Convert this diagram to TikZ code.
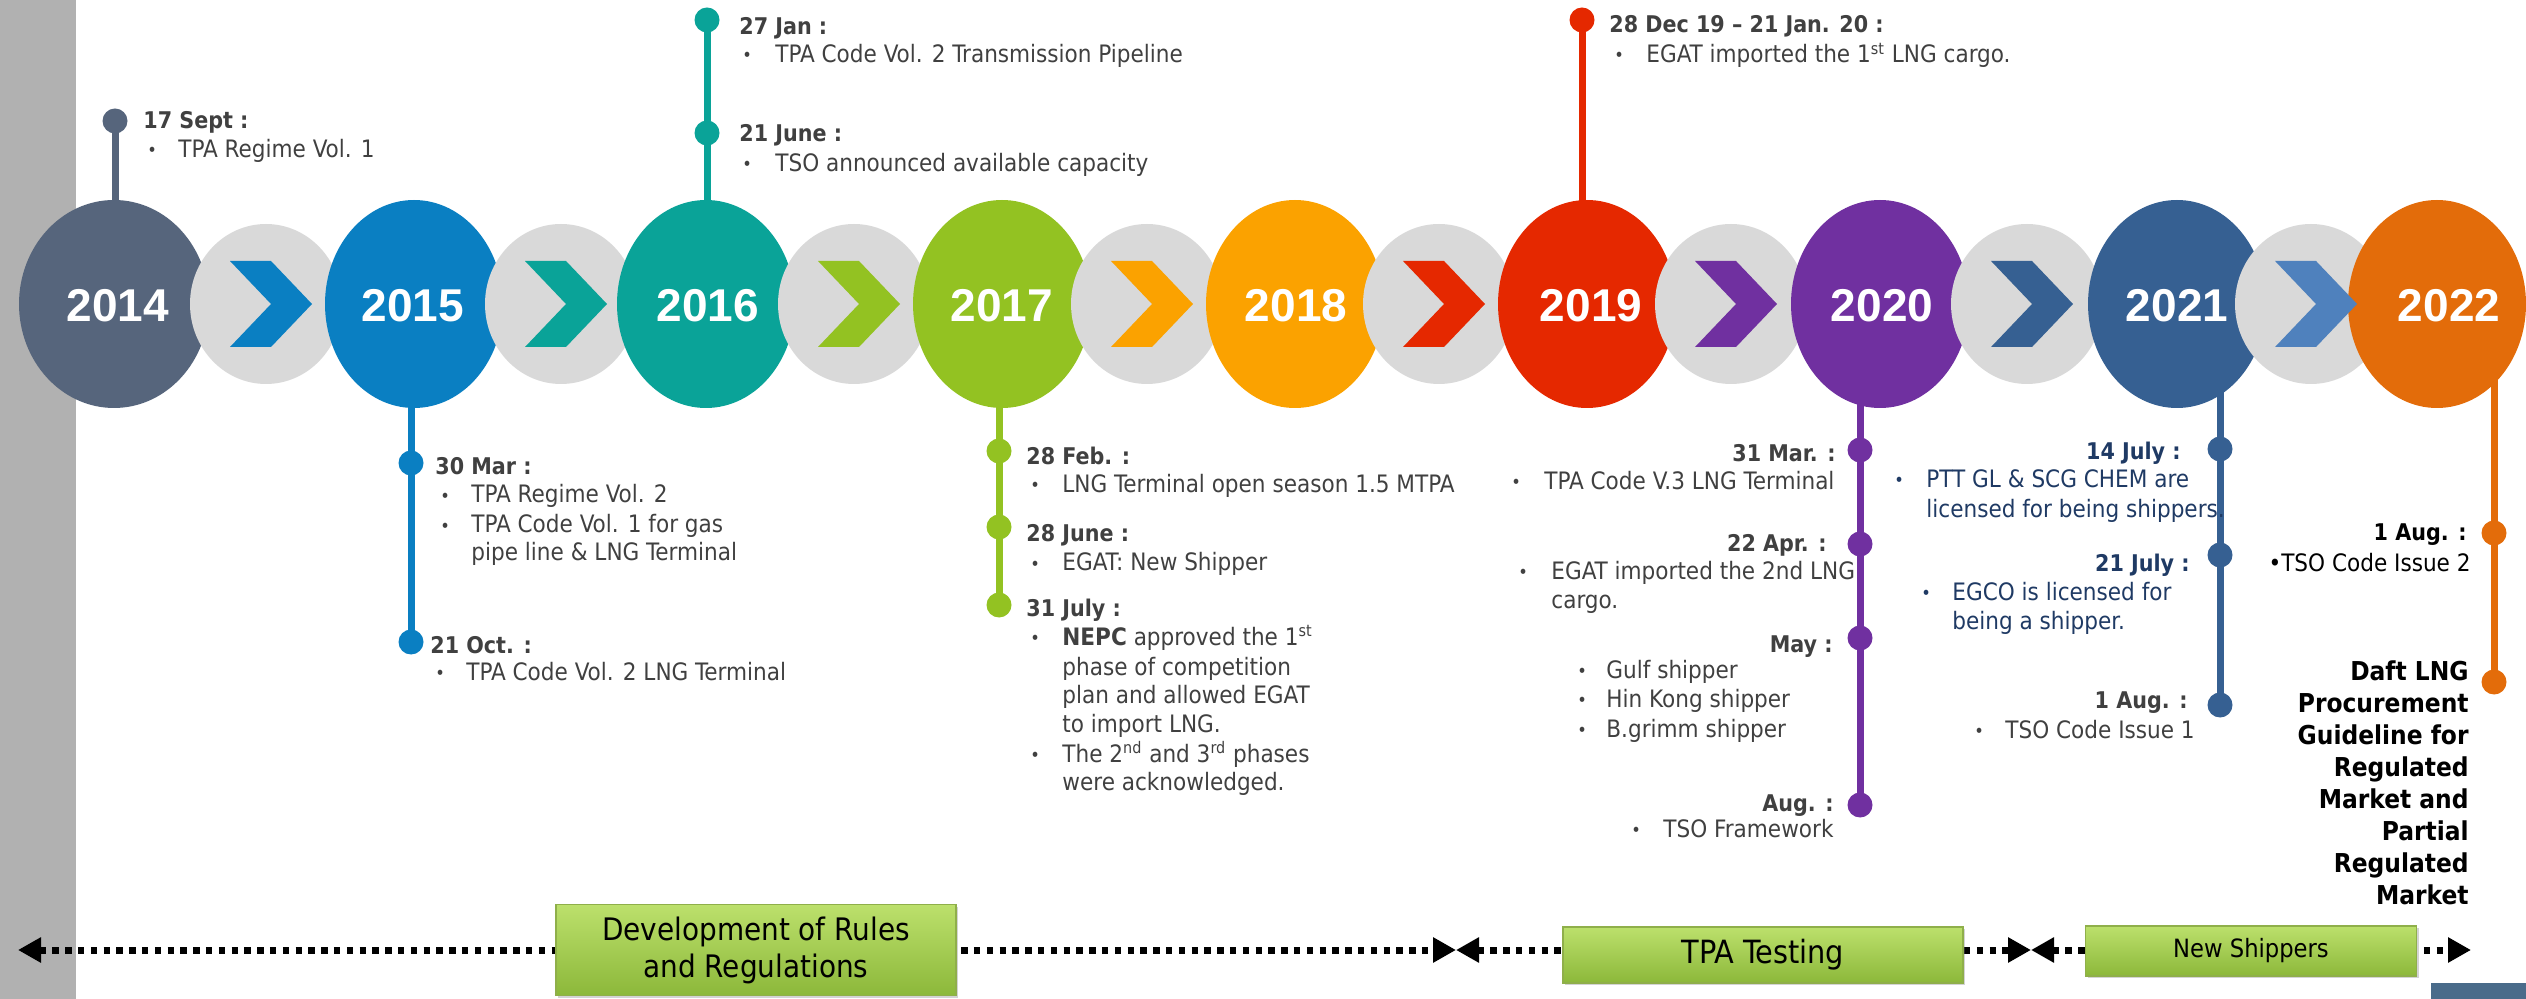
\documentclass[tikz,border=0pt]{standalone}
\usepackage{fontspec}
\setmainfont{DejaVu Sans Condensed}
\newfontfamily\yearfont{Liberation Sans}
\usetikzlibrary{arrows.meta,shapes.geometric,shadows}
\definecolor{c14}{HTML}{56657C}
\definecolor{c15}{HTML}{0A7FC2}
\definecolor{c16}{HTML}{0AA398}
\definecolor{c17}{HTML}{93C222}
\definecolor{c18}{HTML}{FBA200}
\definecolor{c19}{HTML}{E52800}
\definecolor{c20}{HTML}{7030A0}
\definecolor{c21}{HTML}{366092}
\definecolor{c21b}{HTML}{4F81BD}
\definecolor{c22}{HTML}{E36C0A}
\definecolor{gcirc}{HTML}{D9D9D9}
\definecolor{txt}{HTML}{404040}
\definecolor{navy}{HTML}{1F3A64}
\definecolor{sidebar}{HTML}{B1B1B1}
\definecolor{boxtop}{HTML}{BCE06C}
\definecolor{boxbot}{HTML}{8CB83A}
\definecolor{boxedge}{HTML}{8FAF4A}
\definecolor{corner}{HTML}{4A6B8A}
\newcommand\bul{\makebox[0pt][l]{\fontsize{9}{9}\selectfont\raisebox{0.5pt}{\textbullet}}}
\tikzset{
  yearball/.style={ellipse, inner sep=0, minimum width=89pt, minimum height=104pt},
  grayball/.style={ellipse, inner sep=0, fill=gcirc, minimum width=76pt, minimum height=80pt},
  yeartxt/.style={inner sep=0, text=white, font=\yearfont\fontsize{23}{23}\selectfont\bfseries},
  dotmark/.style={circle, inner sep=0, minimum size=12.5pt},
  vline/.style={line width=3.5pt},
  dt/.style={anchor=base west, inner sep=0, text=txt, font=\fontsize{11.5}{13}\selectfont\bfseries},
  dtr/.style={dt, anchor=base east},
  it/.style={anchor=base west, inner sep=0, text=txt, font=\fontsize{12}{13}\selectfont},
  bl/.style={it},
  greenbox/.style={rectangle, draw=boxedge, line width=0.6pt, top color=boxtop, bottom color=boxbot,
    drop shadow={shadow xshift=1.2pt, shadow yshift=-1.2pt, opacity=0.35}, inner sep=0, align=center},
  dotarrow/.style={line width=3.5pt, dash pattern=on 3.2pt off 3.2pt,
    {Triangle[length=11.5pt,width=12pt]}-{Triangle[length=11.5pt,width=12pt]}},
}
\begin{document}
\begin{tikzpicture}[x=0.5pt,y=-0.5pt]
\useasboundingbox (0,0) rectangle (2526,999);
\fill[sidebar] (0,0) rectangle (76,999);
\fill[corner] (2431,983) rectangle (2526,999);

% anchor coordinates on the circles (behind)
\coordinate (k14) at (115,304);
\coordinate (k15) at (411,304);
\coordinate (k16) at (707,304);
\coordinate (k17) at (999,304);
\coordinate (k19) at (1582,304);
\coordinate (k20) at (1860,304);
\coordinate (k21) at (2220,330);
\coordinate (k22) at (2494,330);

% event markers
\node[dotmark, fill=c14] (d14a) at (115,121) {};
\node[dotmark, fill=c16] (d16a) at (707,20) {};
\node[dotmark, fill=c16] (d16b) at (707,133) {};
\node[dotmark, fill=c19] (d19a) at (1582,20) {};
\node[dotmark, fill=c15] (d15a) at (411,463) {};
\node[dotmark, fill=c15] (d15b) at (411,642) {};
\node[dotmark, fill=c17] (d17a) at (999,451) {};
\node[dotmark, fill=c17] (d17b) at (999,527) {};
\node[dotmark, fill=c17] (d17c) at (999,605) {};
\node[dotmark, fill=c20] (d20a) at (1860,450) {};
\node[dotmark, fill=c20] (d20b) at (1860,544) {};
\node[dotmark, fill=c20] (d20c) at (1860,638) {};
\node[dotmark, fill=c20] (d20d) at (1860,805) {};
\node[dotmark, fill=c21] (d21a) at (2220,449) {};
\node[dotmark, fill=c21] (d21b) at (2220,555) {};
\node[dotmark, fill=c21] (d21c) at (2220,705) {};
\node[dotmark, fill=c22] (d22a) at (2494,533) {};
\node[dotmark, fill=c22] (d22b) at (2494,682) {};

\draw[vline, c14] (k14) -- (d14a.center);
\draw[vline, c16] (k16) -- (d16a.center);
\draw[vline, c19] (k19) -- (d19a.center);
\draw[vline, c15] (k15) -- (d15b.center);
\draw[vline, c17] (k17) -- (d17c.center);
\draw[vline, c20] (k20) -- (d20d.center);
\draw[vline, c21] (k21) -- (d21c.center);
\draw[vline, c22] (k22) -- (d22b.center);

% year balls
\node[yearball, fill=c14, minimum width=95pt] (b14) at (114,304) {};
\node[grayball] (g1) at (266,304) {};
\node[yearball, fill=c15] (b15) at (414,304) {};
\node[grayball] (g2) at (561,304) {};
\node[yearball, fill=c16] (b16) at (706,304) {};
\node[grayball] (g3) at (854,304) {};
\node[yearball, fill=c17] (b17) at (1002,304) {};
\node[grayball] (g4) at (1147,304) {};
\node[yearball, fill=c18] (b18) at (1295,304) {};
\node[grayball] (g5) at (1439,304) {};
\node[yearball, fill=c19] (b19) at (1587,304) {};
\node[grayball] (g6) at (1731,304) {};
\node[yearball, fill=c20] (b20) at (1880,304) {};
\node[grayball] (g7) at (2027,304) {};
\node[yearball, fill=c21] (b21) at (2177,304) {};
\node[grayball] (g8) at (2311,304) {};
\node[yearball, fill=c22] (b22) at (2437,304) {};

% chevrons
\foreach \g/\c in {g1/c15,g2/c16,g3/c17,g4/c18,g5/c19,g6/c20,g7/c21,g8/c21b}{
  \fill[\c] ([shift={(-36,-43)}]\g.center) -- ++(41,0) -- ++(41,43) -- ++(-41,43) -- ++(-41,0) -- ++(41,-43) -- cycle;
}

% year labels
\node[yeartxt] (t14) at (118,306) {2014};
\node[yeartxt] (t15) at (413,306) {2015};
\node[yeartxt] (t16) at (708,306) {2016};
\node[yeartxt] (t17) at (1002,306) {2017};
\node[yeartxt] (t18) at (1296,306) {2018};
\node[yeartxt] (t19) at (1591,306) {2019};
\node[yeartxt] (t20) at (1882,306) {2020};
\node[yeartxt] (t21) at (2177,306) {2021};
\node[yeartxt] (t22) at (2449,306) {2022};

% 2014
\node[dt] (e14h) at (143,129) {17 Sept :};
\node[bl] (e14b) at (146,158) {\bul};
\node[it] (e14i) at (178,158) {TPA Regime Vol. 1};

% 2016
\node[dt] (e16h1) at (739,35) {27 Jan :};
\node[bl] (e16b1) at (741,63) {\bul};
\node[it] (e16i1) at (775,63) {TPA Code Vol. 2 Transmission Pipeline};
\node[dt] (e16h2) at (739,142) {21 June :};
\node[bl] (e16b2) at (741,172) {\bul};
\node[it] (e16i2) at (775,172) {TSO announced available capacity};

% 2015
\node[dt] (e15h1) at (435,475) {30 Mar :};
\node[bl] (e15b1) at (439,503) {\bul};
\node[it] (e15i1) at (471,503) {TPA Regime Vol. 2};
\node[bl] (e15b2) at (439,533) {\bul};
\node[it] (e15i2) at (471,533) {TPA Code Vol. 1 for gas};
\node[it] (e15i3) at (471,560) {pipe line \& LNG Terminal};
\node[dt] (e15h2) at (430,653) {21 Oct. :};
\node[bl] (e15b3) at (434,680) {\bul};
\node[it] (e15i4) at (466,680) {TPA Code Vol. 2 LNG Terminal};

% 2017
\node[dt] (e17h1) at (1026,465) {28 Feb. :};
\node[bl] (e17b1) at (1029,493) {\bul};
\node[it] (e17i1) at (1062,493) {LNG Terminal open season 1.5 MTPA};
\node[dt] (e17h2) at (1026,542) {28 June :};
\node[bl] (e17b2) at (1029,571) {\bul};
\node[it] (e17i2) at (1062,571) {EGAT: New Shipper};
\node[dt] (e17h3) at (1026,617) {31 July :};
\node[bl] (e17b3) at (1029,645) {\bul};
\node[it] (e17i3) at (1062,645) {\textbf{NEPC} approved the 1\textsuperscript{st}};
\node[it] (e17i4) at (1062,675) {phase of competition};
\node[it] (e17i5) at (1062,703) {plan and allowed EGAT};
\node[it] (e17i6) at (1062,732) {to import LNG.};
\node[bl] (e17b4) at (1029,762) {\bul};
\node[it] (e17i7) at (1062,762) {The 2\textsuperscript{nd} and 3\textsuperscript{rd} phases};
\node[it] (e17i8) at (1062,790) {were acknowledged.};

% 2019
\node[dt] (e19h) at (1609,33) {28 Dec 19 – 21 Jan. 20 :};
\node[bl] (e19b) at (1613,63) {\bul};
\node[it] (e19i) at (1646,63) {EGAT imported the 1\textsuperscript{st} LNG cargo.};

% 2020
\node[dtr] (e20h1) at (1836,462) {31 Mar. :};
\node[bl] (e20b1) at (1510,490) {\bul};
\node[it] (e20i1) at (1544,490) {TPA Code V.3 LNG Terminal};
\node[dtr] (e20h2) at (1827,552) {22 Apr. :};
\node[bl] (e20b2) at (1517,580) {\bul};
\node[it] (e20i2) at (1551,580) {EGAT imported the 2nd LNG};
\node[it] (e20i3) at (1551,608) {cargo.};
\node[dtr] (e20h3) at (1833,652) {May :};
\node[bl] (e20b3) at (1576,678) {\bul};
\node[it] (e20i4) at (1606,678) {Gulf shipper};
\node[bl] (e20b4) at (1576,707) {\bul};
\node[it] (e20i5) at (1606,707) {Hin Kong shipper};
\node[bl] (e20b5) at (1576,737) {\bul};
\node[it] (e20i6) at (1606,737) {B.grimm shipper};
\node[dtr] (e20h4) at (1834,811) {Aug. :};
\node[bl] (e20b6) at (1630,837) {\bul};
\node[it] (e20i7) at (1663,837) {TSO Framework};

% 2021
\node[dtr, text=navy] (e21h1) at (2181,460) {14 July :};
\node[bl, text=navy] (e21b1) at (1893,488) {\bul};
\node[it, text=navy] (e21i1) at (1926,488) {PTT GL \& SCG CHEM are};
\node[it, text=navy] (e21i2) at (1926,517) {licensed for being shippers.};
\node[dtr, text=navy] (e21h2) at (2190,572) {21 July :};
\node[bl, text=navy] (e21b2) at (1920,600) {\bul};
\node[it, text=navy] (e21i3) at (1952,600) {EGCO is licensed for};
\node[it, text=navy] (e21i4) at (1952,629) {being a shipper.};
\node[dtr] (e21h3) at (2188,708) {1 Aug. :};
\node[bl] (e21b3) at (1973,738) {\bul};
\node[it] (e21i5) at (2005,738) {TSO Code Issue 1};

% 2022
\node[dtr, text=black] (e22h1) at (2467,540) {1 Aug. :};
\node[it, text=black, anchor=base east] (e22i1) at (2471,572) {\textbullet TSO Code Issue 2};
\node[anchor=base east, inner sep=0, text=black, align=right,
      font=\fontsize{13}{16}\selectfont\bfseries] (e22i2) at (2469,904)
      {Daft LNG\\Procurement\\Guideline for\\Regulated\\Market and\\Partial\\Regulated\\Market};

% phases
\coordinate (a0) at (18,950);
\coordinate (a1) at (1456,950);
\coordinate (a2) at (2031,950);
\coordinate (a3) at (2471,950);
\draw[dotarrow] (a0) -- (a1);
\draw[dotarrow] (a1) -- (a2);
\draw[dotarrow] (a2) -- (a3);

\node[greenbox, minimum width=200pt, minimum height=45.5pt, font=\fontsize{15.5}{18.5}\selectfont] (p1) at (756,950)
  {Development of Rules\\and Regulations};
\node[greenbox, minimum width=200pt, minimum height=28pt, font=\fontsize{16}{18}\selectfont] (p2) at (1763,955) {TPA Testing};
\node[greenbox, minimum width=165.5pt, minimum height=25pt, font=\fontsize{12.6}{14}\selectfont] (p3) at (2251,951) {New Shippers};
\end{tikzpicture}
\end{document}
